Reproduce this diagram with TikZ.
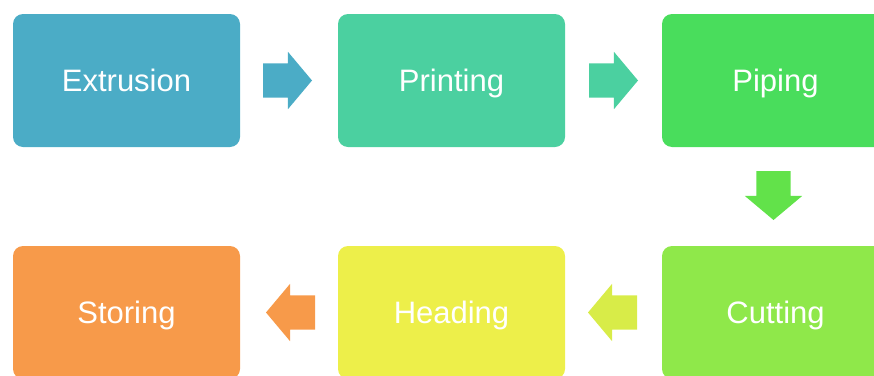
\documentclass[tikz,border=0pt]{standalone}
\usepackage{fontspec}
\setmainfont{Liberation Sans}
\usepackage{tikz}
\usetikzlibrary{positioning,shapes.arrows,calc}
\definecolor{extrusioncol}{HTML}{4BACC6}
\definecolor{printingcol}{HTML}{4BD0A0}
\definecolor{pipingcol}{HTML}{49DD5C}
\definecolor{downcol}{HTML}{62E24A}
\definecolor{cuttingcol}{HTML}{8FE84A}
\definecolor{backcol}{HTML}{D8EC48}
\definecolor{headingcol}{HTML}{EDEF4A}
\definecolor{storingcol}{HTML}{F79A4A}

\begin{document}
\begin{tikzpicture}[x=1pt,y=-1pt,node distance=98pt,
    stage/.style={rounded corners=10pt,minimum width=227pt,minimum height=133pt,inner sep=0pt,outer sep=0pt,text=white,text height=22pt,text depth=0pt,font=\fontsize{31}{37}\selectfont},
    flow/.style={single arrow,inner xsep=0pt,inner ysep=17pt,outer sep=0pt,minimum height=49pt,single arrow head extend=11.5pt,single arrow tip angle=100,anchor=tail},
    flowdown/.style={flow,inner xsep=17pt,inner ysep=0pt,shape border rotate=270}]
      \useasboundingbox (0,0) rectangle (874,375);
      \clip (0,0) rectangle (874,375);
      % top row
      \node[stage,fill=extrusioncol](extrusion) at (126.5,80.5){Extrusion};
      \node[stage,fill=printingcol,right=of extrusion](printing){Printing};
      \node[stage,fill=pipingcol,right=97pt of printing](piping){Piping};
      % bottom row
      \node[stage,fill=cuttingcol,below=99pt of piping](cutting){Cutting};
      \node[stage,fill=headingcol,left=97pt of cutting](heading){Heading};
      \node[stage,fill=storingcol,left=of heading](storing){Storing};
      % arrows
      \node[flow,fill=extrusioncol](a1) at ($(extrusion.east)+(23,0)$){};
      \node[flow,fill=printingcol](a2) at ($(printing.east)+(24,0)$){};
      \node[flowdown,fill=downcol](a3) at ($(piping.south)+(-2,24)$){};
      \node[flow,fill=backcol,shape border rotate=180](a4) at ($(cutting.west)+(-25,0)$){};
      \node[flow,fill=storingcol,shape border rotate=180](a5) at ($(heading.west)+(-23,0)$){};
    \end{tikzpicture}
\end{document}
